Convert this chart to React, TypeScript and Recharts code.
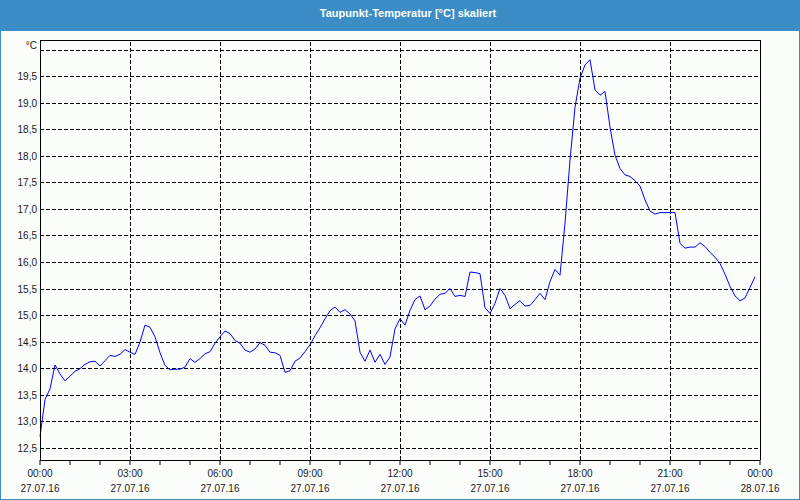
import React from 'react';
import { LineChart, Line, XAxis, YAxis, ReferenceLine } from 'recharts';

// minutes since 27.07.16 00:00, every 10 minutes
const STEP_MIN = 10;
const dewPoint: number[] = [
  12.72, 13.42, 13.62, 14.07, 13.9, 13.77, 13.86, 13.95, 14.0, 14.08,
  14.13, 14.14, 14.05, 14.15, 14.25, 14.23, 14.27, 14.36, 14.31, 14.27,
  14.5, 14.82, 14.78, 14.6, 14.3, 14.06, 13.98, 13.99, 13.99, 14.03,
  14.19, 14.12, 14.19, 14.28, 14.32, 14.48, 14.6, 14.71, 14.66, 14.53,
  14.48, 14.35, 14.31, 14.37, 14.49, 14.44, 14.31, 14.3, 14.25, 13.93,
  13.96, 14.14, 14.2, 14.32, 14.45, 14.62, 14.77, 14.94, 15.09, 15.16,
  15.06, 15.11, 15.03, 14.9, 14.31, 14.14, 14.35, 14.12, 14.27, 14.08,
  14.22, 14.75, 14.94, 14.82, 15.1, 15.3, 15.37, 15.11, 15.18, 15.31,
  15.4, 15.42, 15.51, 15.36, 15.38, 15.36, 15.82, 15.81, 15.79, 15.15,
  15.04, 15.23, 15.51, 15.38, 15.13, 15.21, 15.28, 15.18, 15.19, 15.3,
  15.42, 15.3, 15.64, 15.87, 15.76, 16.74, 17.93, 18.92, 19.47, 19.72,
  19.82, 19.25, 19.15, 19.22, 18.55, 18.02, 17.77, 17.65, 17.62, 17.54,
  17.44, 17.18, 16.97, 16.91, 16.94, 16.94, 16.94, 16.94, 16.36, 16.27,
  16.29, 16.29, 16.37, 16.3, 16.19, 16.1, 15.98, 15.78, 15.55, 15.37,
  15.28, 15.33, 15.53, 15.73,
];

const xTicks: number[] = [0, 60, 120, 180, 240, 300, 360, 420, 480, 540, 600, 660, 720, 780, 840, 900, 960, 1020, 1080, 1140, 1200, 1260, 1320, 1380, 1440];
const xMajor: number[] = [180, 360, 540, 720, 900, 1080, 1260];
const xTimeLabels: Record<number, string> = {
  0: '00:00', 180: '03:00', 360: '06:00', 540: '09:00', 720: '12:00',
  900: '15:00', 1080: '18:00', 1260: '21:00', 1440: '00:00',
};
const xDateLabels: Record<number, string> = {
  0: '27.07.16', 180: '27.07.16', 360: '27.07.16', 540: '27.07.16', 720: '27.07.16',
  900: '27.07.16', 1080: '27.07.16', 1260: '27.07.16', 1440: '28.07.16',
};
const yTicks: number[] = [12.5, 13, 13.5, 14, 14.5, 15, 15.5, 16, 16.5, 17, 17.5, 18, 18.5, 19, 19.5, 20];
const Y_MIN = 12.28;
const Y_MAX = 20.19;
const X_MAX = 1440;

const data = dewPoint.map((v, i) => ({ t: i * STEP_MIN, v }));

const FONT = '"Liberation Sans", Arial, sans-serif';
const TXT = '#1a1a1a';
const BLUE = '#3c8dc6';

const XTick = (props: any) => {
  const { x, y, payload } = props;
  const v = payload.value as number;
  const t = xTimeLabels[v];
  return (
    <g>
      <line x1={x} x2={x} y1={y} y2={y + 5} stroke="#000" />
      {t !== undefined && (
        <>
          <text x={x} y={y + 17} textAnchor="middle" fontSize={10} fontFamily={FONT} fill={TXT}>{t}</text>
          <text x={x} y={y + 31.5} textAnchor="middle" fontSize={10} fontFamily={FONT} fill={TXT}>{xDateLabels[v]}</text>
        </>
      )}
    </g>
  );
};

const YTick = (props: any) => {
  const { x, y, payload } = props;
  const v = payload.value as number;
  const label = v === 20 ? '°C' : v.toFixed(1).replace('.', ',');
  const yy = v === 20 ? y - 5 : y;
  return (
    <text x={x} y={yy + 3.5} textAnchor="end" fontSize={10} fontFamily={FONT} fill={TXT}>{label}</text>
  );
};

export default function App() {
  return (
    <div style={{ position: 'fixed', left: 0, top: 0, width: 800, height: 500, background: '#fbfdfb', overflow: 'hidden' }}>
      <div
        style={{
          position: 'absolute', left: 0, top: 0, width: 800, height: 31, background: BLUE,
          color: '#fff', fontFamily: FONT, fontWeight: 'bold', fontSize: 11, lineHeight: '26px',
          textAlign: 'center', paddingLeft: 16, boxSizing: 'border-box',
        }}
      >
        Taupunkt-Temperatur [°C] skaliert
      </div>
      <div style={{ position: 'absolute', left: 0, top: 0 }}>
        <LineChart width={800} height={500} data={data} margin={{ top: 40, right: 40, bottom: 0, left: 0 }}>
          {yTicks.map((yv) => (
            <ReferenceLine key={`h${yv}`} y={yv} stroke="#000" strokeDasharray="4 2" shapeRendering="crispEdges" />
          ))}
          {xMajor.map((m) => (
            <ReferenceLine key={`v${m}`} x={m} stroke="#000" strokeDasharray="4 2" shapeRendering="crispEdges" />
          ))}
          <ReferenceLine y={Y_MAX} stroke="#000" shapeRendering="crispEdges" />
          <ReferenceLine x={X_MAX} stroke="#000" shapeRendering="crispEdges" />
          <XAxis
            dataKey="t"
            type="number"
            domain={[0, X_MAX]}
            ticks={xTicks}
            interval={0}
            height={40}
            tickSize={0}
            tickMargin={0}
            tickLine={false}
            axisLine={{ stroke: '#000', shapeRendering: 'crispEdges' }}
            tick={<XTick />}
          />
          <YAxis
            type="number"
            domain={[Y_MIN, Y_MAX]}
            ticks={yTicks}
            interval={0}
            width={40}
            tickSize={0}
            tickMargin={3}
            tickLine={false}
            axisLine={{ stroke: '#000', shapeRendering: 'crispEdges' }}
            tick={<YTick />}
            allowDataOverflow
          />
          <Line type="linear" dataKey="v" stroke="#0000ff" strokeWidth={1} dot={false} isAnimationActive={false} />
        </LineChart>
      </div>
      <div style={{ position: 'absolute', left: 0, top: 0, width: 800, height: 500, boxSizing: 'border-box', border: `1px solid ${BLUE}`, pointerEvents: 'none' }} />
    </div>
  );
}
